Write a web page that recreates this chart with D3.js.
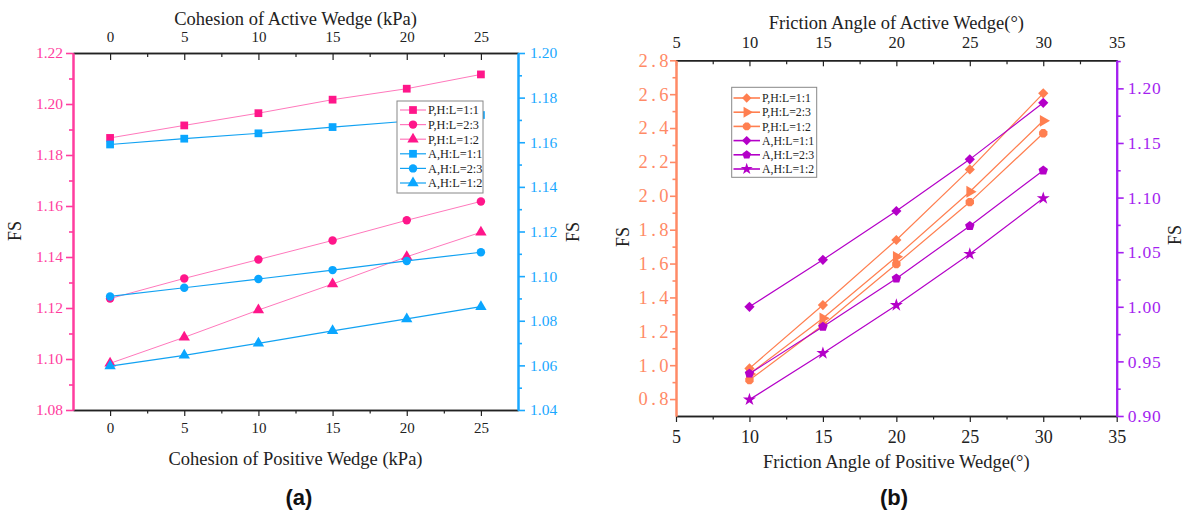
<!DOCTYPE html>
<html><head><meta charset="utf-8">
<script src="https://cdn.jsdelivr.net/npm/d3@7"></script>
<style>
body{margin:0;background:#fff}
svg{display:block}
text{font-family:"Liberation Serif","Times New Roman",serif}
</style>
</head><body>
<svg id="c" width="1189" height="515"></svg>
<script>
// ---------- Data: panel (a) ----------
const cohesion = [0, 5, 10, 15, 20, 25];
const cohesionTicks = [0, 5, 10, 15, 20, 25];
const a_P11 = [1.1867, 1.1916, 1.1964, 1.2017, 1.2060, 1.2116];
const a_P23 = [1.1237, 1.1316, 1.1390, 1.1465, 1.1544, 1.1618];
const a_P12 = [1.0983, 1.1085, 1.1192, 1.1294, 1.1401, 1.1497];
const a_A11 = [1.1590, 1.1616, 1.1640, 1.1668, 1.1694, 1.1722];
const a_A23 = [1.0909, 1.0948, 1.0987, 1.1027, 1.1068, 1.1107];
const a_A12 = [1.0597, 1.0645, 1.0699, 1.0755, 1.0808, 1.0863];
const aLeftTicks = [1.08, 1.10, 1.12, 1.14, 1.16, 1.18, 1.20, 1.22];
const aRightTicks = [1.04, 1.06, 1.08, 1.10, 1.12, 1.14, 1.16, 1.18, 1.20];
const aLabels = ["P,H:L=1:1", "P,H:L=2:3", "P,H:L=1:2", "A,H:L=1:1", "A,H:L=2:3", "A,H:L=1:2"];

// ---------- Data: panel (b) ----------
const friction = [10, 15, 20, 25, 30];
const frictionTicks = [5, 10, 15, 20, 25, 30, 35];
const b_P11 = [0.981, 1.355, 1.739, 2.156, 2.605];
const b_P23 = [0.948, 1.277, 1.640, 2.024, 2.443];
const b_P12 = [0.912, 1.237, 1.597, 1.963, 2.369];
const b_A11 = [1.000, 1.043, 1.0877, 1.135, 1.1868];
const b_A23 = [0.9388, 0.9817, 1.026, 1.074, 1.1248];
const b_A12 = [0.915, 0.9575, 1.0015, 1.0483, 1.0994];
const bLeftTicks = [0.8, 1.0, 1.2, 1.4, 1.6, 1.8, 2.0, 2.2, 2.4, 2.6, 2.8];
const bRightTicks = [0.90, 0.95, 1.00, 1.05, 1.10, 1.15, 1.20];
const bLabels = ["P,H:L=1:1", "P,H:L=2:3", "P,H:L=1:2", "A,H:L=1:1", "A,H:L=2:3", "A,H:L=1:2"];

// ---------- Styles ----------
const C = {
  pinkMark: "#ff168a", pinkLine: "#ff78bc", pinkAxis: "#ff3d9e",
  blueMark: "#0aa6ff", blueLine: "#12a2f2", blueAxis: "#1aa8ff",
  orange: "#ff7f50", orangeAxis: "#ff8a66",
  purple: "#b400c8", purpleAxis: "#a41ff0"
};
const SERIF = '"Liberation Serif","Times New Roman",serif';

const svg = d3.select("#c");

// custom symbols
const symPentagon = {
  draw(ctx, size) {
    const r = Math.sqrt(size / 2.378);
    for (let k = 0; k < 5; k++) {
      const a = -Math.PI / 2 + k * 2 * Math.PI / 5;
      const x = r * Math.cos(a), y = r * Math.sin(a);
      if (k === 0) ctx.moveTo(x, y); else ctx.lineTo(x, y);
    }
    ctx.closePath();
  }
};
const symOctagon = {
  draw(ctx, size) {
    const r = Math.sqrt(size / 2.828);
    for (let k = 0; k < 8; k++) {
      const a = Math.PI / 8 + k * 2 * Math.PI / 8;
      const x = r * Math.cos(a), y = r * Math.sin(a);
      if (k === 0) ctx.moveTo(x, y); else ctx.lineTo(x, y);
    }
    ctx.closePath();
  }
};

function range(a, b, s) { const o = []; for (let v = a; v <= b + 1e-9; v += s) o.push(+v.toFixed(4)); return o; }

function styleAxis(g, color, width, fontSize, textColor) {
  g.attr("font-family", SERIF).attr("font-size", fontSize);
  g.select(".domain").attr("stroke", color).attr("stroke-width", width);
  g.selectAll(".tick line").attr("stroke", color).attr("stroke-width", width * 0.8);
  g.selectAll(".tick text").attr("fill", textColor || color)
    .style("font-family", SERIF)
    .style("font-size", fontSize + "px");
}

function drawSeries(g, x, y, xs, ys, line, mark, sym, size, rot, lw) {
  const data = xs.map((v, i) => [v, ys[i]]);
  g.append("path").datum(data)
    .attr("fill", "none").attr("stroke", line).attr("stroke-width", lw)
    .attr("d", d3.line().x(d => x(d[0])).y(d => y(d[1])));
  g.selectAll(null).data(data).enter().append("path")
    .attr("transform", d => `translate(${x(d[0])},${y(d[1])}) rotate(${rot})`)
    .attr("fill", mark)
    .attr("d", d3.symbol().type(sym).size(size));
}

// ================= Panel (a) =================
(function () {
  const L = 73, R = 518, T = 53, B = 410;
  const x = d3.scaleLinear().domain([-2.5, 27.5]).range([L, R]);
  const yL = d3.scaleLinear().domain([1.08, 1.22]).range([B, T]);
  const yR = d3.scaleLinear().domain([1.04, 1.20]).range([B, T]);
  const g = svg.append("g");
  const minorX = [2.5, 7.5, 12.5, 17.5, 22.5];

  g.append("g").attr("transform", `translate(0,${B})`)
    .call(d3.axisBottom(x).tickValues(minorX).tickSize(3.5).tickSizeOuter(0).tickFormat(""))
    .call(s => styleAxis(s, "#222", 1.5, 15));
  g.append("g").attr("transform", `translate(0,${B})`)
    .call(d3.axisBottom(x).tickValues(cohesionTicks).tickSize(6).tickPadding(6).tickSizeOuter(0).tickFormat(d3.format("d")))
    .call(s => styleAxis(s, "#222", 1.5, 15));
  g.append("g").attr("transform", `translate(0,${T})`)
    .call(d3.axisTop(x).tickValues(minorX).tickSize(-4).tickSizeOuter(0).tickFormat(""))
    .call(s => styleAxis(s, "#222", 1.5, 15));
  g.append("g").attr("transform", `translate(0,${T})`)
    .call(d3.axisTop(x).tickValues(cohesionTicks).tickSize(-7).tickPadding(11).tickSizeOuter(0).tickFormat(d3.format("d")))
    .call(s => styleAxis(s, "#222", 1.5, 15));
  g.append("g").attr("transform", `translate(${L},0)`)
    .call(d3.axisLeft(yL).tickValues(range(1.09, 1.21, 0.02)).tickSize(4).tickSizeOuter(0).tickFormat(""))
    .call(s => styleAxis(s, C.pinkAxis, 2, 15));
  g.append("g").attr("transform", `translate(${L},0)`)
    .call(d3.axisLeft(yL).tickValues(aLeftTicks).tickSize(7).tickPadding(3).tickSizeOuter(0).tickFormat(d3.format(".2f")))
    .call(s => styleAxis(s, C.pinkAxis, 2, 15.5));
  g.append("g").attr("transform", `translate(${R},0)`)
    .call(d3.axisRight(yR).tickValues(range(1.05, 1.19, 0.02)).tickSize(4).tickSizeOuter(0).tickFormat(""))
    .call(s => styleAxis(s, C.blueAxis, 2, 15));
  g.append("g").attr("transform", `translate(${R},0)`)
    .call(d3.axisRight(yR).tickValues(aRightTicks).tickSize(7).tickPadding(5).tickSizeOuter(0).tickFormat(d3.format(".2f")))
    .call(s => styleAxis(s, C.blueAxis, 2, 15.5));

  const specs = [
    [a_P11, yL, C.pinkLine, C.pinkMark, d3.symbolSquare, 60, 0, 1],
    [a_P23, yL, C.pinkLine, C.pinkMark, d3.symbolCircle, 56, 0, 1],
    [a_P12, yL, C.pinkLine, C.pinkMark, d3.symbolTriangle, 56, 0, 1],
    [a_A11, yR, C.blueLine, C.blueMark, d3.symbolSquare, 60, 0, 1.2],
    [a_A23, yR, C.blueLine, C.blueMark, d3.symbolCircle, 56, 0, 1.2],
    [a_A12, yR, C.blueLine, C.blueMark, d3.symbolTriangle, 56, 0, 1.2]
  ];
  specs.forEach(s => drawSeries(g, x, s[1], cohesion, s[0], s[2], s[3], s[4], s[5], s[6], s[7]));

  const lg = g.append("g");
  lg.append("rect").attr("x", 397).attr("y", 101).attr("width", 86).attr("height", 92)
    .attr("fill", "#fff").attr("stroke", "#888").attr("stroke-width", 1);
  specs.forEach((s, i) => {
    const yy = 110 + i * 14.6;
    lg.append("line").attr("x1", 400).attr("x2", 426).attr("y1", yy).attr("y2", yy)
      .attr("stroke", s[2]).attr("stroke-width", 1.2);
    lg.append("path").attr("transform", `translate(413,${yy}) rotate(${s[6]})`)
      .attr("fill", s[3]).attr("d", d3.symbol().type(s[4]).size(s[5]));
    lg.append("text").attr("x", 428).attr("y", yy).attr("dy", "0.35em")
      .style("font-size", "12.3px").attr("fill", "#222").text(aLabels[i]);
  });

  g.append("text").attr("x", (L + R) / 2).attr("y", 25).attr("text-anchor", "middle")
    .style("font-size", "18.5px").attr("fill", "#222").text("Cohesion of Active Wedge (kPa)");
  g.append("text").attr("x", (L + R) / 2).attr("y", 465).attr("text-anchor", "middle")
    .style("font-size", "18.5px").attr("fill", "#222").text("Cohesion of Positive Wedge (kPa)");
  g.append("text").attr("transform", "translate(15,231) rotate(-90)").attr("text-anchor", "middle")
    .attr("dominant-baseline", "central").style("font-size", "18px").attr("fill", "#222").text("FS");
  g.append("text").attr("transform", "translate(573,232) rotate(-90)").attr("text-anchor", "middle")
    .attr("dominant-baseline", "central").style("font-size", "18px").attr("fill", "#222").text("FS");
  g.append("text").attr("x", 299).attr("y", 505).attr("text-anchor", "middle")
    .style("font-family", '"Liberation Sans",Arial,sans-serif').style("font-weight", "bold")
    .style("font-size", "22px").attr("fill", "#111").text("(a)");
})();

// ================= Panel (b) =================
(function () {
  const L = 676, R = 1116.7, T = 60.3, B = 416;
  const x = d3.scaleLinear().domain([5, 35]).range([L, R]);
  const yL = d3.scaleLinear().domain([0.7, 2.8]).range([B, T]);
  const yR = d3.scaleLinear().domain([0.9, 1.2257]).range([B, T]);
  const g = svg.append("g");
  const minorX = [7.5, 12.5, 17.5, 22.5, 27.5, 32.5];

  g.append("g").attr("transform", `translate(0,${B})`)
    .call(d3.axisBottom(x).tickValues(minorX).tickSize(3.5).tickSizeOuter(0).tickFormat(""))
    .call(s => styleAxis(s, "#222", 1.5, 18));
  g.append("g").attr("transform", `translate(0,${B})`)
    .call(d3.axisBottom(x).tickValues(frictionTicks).tickSize(6).tickPadding(8).tickSizeOuter(0).tickFormat(d3.format("d")))
    .call(s => styleAxis(s, "#222", 1.5, 18));
  g.append("g").attr("transform", `translate(0,${T})`)
    .call(d3.axisTop(x).tickValues(minorX).tickSize(-4).tickSizeOuter(0).tickFormat(""))
    .call(s => styleAxis(s, "#222", 1.5, 16));
  g.append("g").attr("transform", `translate(0,${T})`)
    .call(d3.axisTop(x).tickValues(frictionTicks).tickSize(-6).tickPadding(12).tickSizeOuter(0).tickFormat(d3.format("d")))
    .call(s => styleAxis(s, "#222", 1.5, 16.5));
  g.append("g").attr("transform", `translate(${L},0)`)
    .call(d3.axisLeft(yL).tickValues(range(0.9, 2.7, 0.2)).tickSize(3.5).tickSizeOuter(0).tickFormat(""))
    .call(s => styleAxis(s, C.orangeAxis, 2, 18));
  g.append("g").attr("transform", `translate(${L},0)`)
    .call(d3.axisLeft(yL).tickValues(bLeftTicks).tickSize(6).tickPadding(-2).tickSizeOuter(0).tickFormat(d3.format(".1f")))
    .call(s => styleAxis(s, C.orangeAxis, 2, 18.5))
    .call(s => s.selectAll(".tick text").style("letter-spacing", "3.5px"));
  g.append("g").attr("transform", `translate(${R},0)`)
    .call(d3.axisRight(yR).tickValues([0.925, 0.975, 1.025, 1.075, 1.125, 1.175, 1.225]).tickSize(4).tickSizeOuter(0).tickFormat(""))
    .call(s => styleAxis(s, C.purpleAxis, 2, 18));
  g.append("g").attr("transform", `translate(${R},0)`)
    .call(d3.axisRight(yR).tickValues(bRightTicks).tickSize(7).tickPadding(4).tickSizeOuter(0).tickFormat(d3.format(".2f")))
    .call(s => styleAxis(s, C.purpleAxis, 2, 17.5))
    .call(s => s.selectAll(".tick text").style("letter-spacing", "0.8px"));

  const specs = [
    [b_P11, yL, C.orange, C.orange, d3.symbolSquare, 52, 45],
    [b_P23, yL, C.orange, C.orange, d3.symbolTriangle, 60, 90],
    [b_P12, yL, C.orange, C.orange, symOctagon, 58, 0],
    [b_A11, yR, C.purple, C.purple, d3.symbolSquare, 52, 45],
    [b_A23, yR, C.purple, C.purple, symPentagon, 58, 0],
    [b_A12, yR, C.purple, C.purple, d3.symbolStar, 52, 0]
  ];
  specs.forEach(s => drawSeries(g, x, s[1], friction, s[0], s[2], s[3], s[4], s[5], s[6], 1.2));

  const lg = g.append("g");
  lg.append("rect").attr("x", 731.7).attr("y", 87.3).attr("width", 85).attr("height", 90)
    .attr("fill", "#fff").attr("stroke", "#888").attr("stroke-width", 1);
  specs.forEach((s, i) => {
    const yy = 98 + i * 14.2;
    lg.append("line").attr("x1", 733.5).attr("x2", 760).attr("y1", yy).attr("y2", yy)
      .attr("stroke", s[2]).attr("stroke-width", 1.6);
    lg.append("path").attr("transform", `translate(746.7,${yy}) rotate(${s[6]})`)
      .attr("fill", s[3]).attr("d", d3.symbol().type(s[4]).size(s[5] * 0.85));
    lg.append("text").attr("x", 762).attr("y", yy).attr("dy", "0.35em")
      .style("font-size", "11.8px").attr("fill", "#222").text(bLabels[i]);
  });

  g.append("text").attr("x", (L + R) / 2).attr("y", 29).attr("text-anchor", "middle")
    .style("font-size", "18.5px").attr("fill", "#222").text("Friction Angle of Active Wedge(°)");
  g.append("text").attr("x", (L + R) / 2).attr("y", 468).attr("text-anchor", "middle")
    .style("font-size", "18.5px").attr("fill", "#222").text("Friction Angle of Positive Wedge(°)");
  g.append("text").attr("transform", "translate(623,237) rotate(-90)").attr("text-anchor", "middle")
    .attr("dominant-baseline", "central").style("font-size", "18px").attr("fill", "#222").text("FS");
  g.append("text").attr("transform", "translate(1175,235) rotate(-90)").attr("text-anchor", "middle")
    .attr("dominant-baseline", "central").style("font-size", "18px").attr("fill", "#222").text("FS");
  g.append("text").attr("x", 894).attr("y", 505).attr("text-anchor", "middle")
    .style("font-family", '"Liberation Sans",Arial,sans-serif').style("font-weight", "bold")
    .style("font-size", "22px").attr("fill", "#111").text("(b)");
})();
</script>
</body></html>
